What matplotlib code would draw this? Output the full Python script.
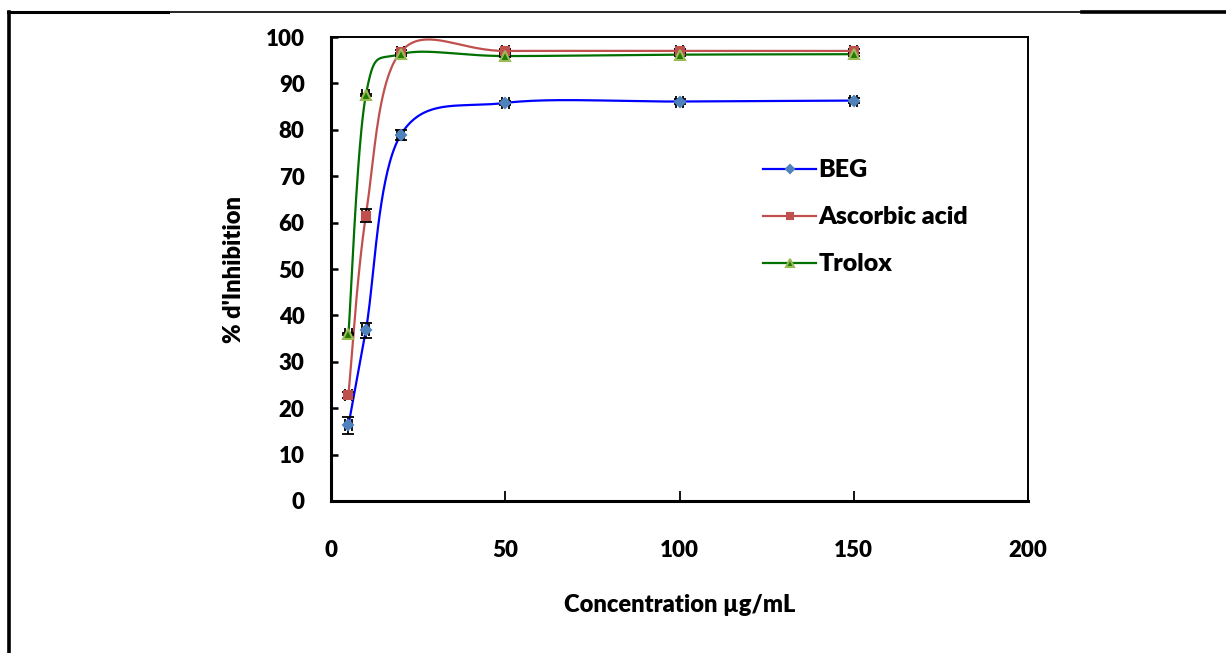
import numpy as np
import matplotlib
matplotlib.use("Agg")
import matplotlib.pyplot as plt
from matplotlib.lines import Line2D

plt.rcParams['font.family'] = ['Lato', 'DejaVu Sans']
plt.rcParams['font.weight'] = 'heavy'
W = 'heavy'

# data
conc = [5, 10, 20, 50, 100, 150]
beg = [16.3, 36.8, 78.9, 85.8, 86.1, 86.3]
beg_err = [1.8, 1.6, 1.0, 0.5, 0.5, 0.5]
ascorbic = [22.9, 61.5, 96.8, 97.0, 97.0, 97.0]
ascorbic_err = [0.6, 1.4, 0.5, 0.5, 0.5, 0.5]
trolox = [36.0, 87.5, 96.3, 95.9, 96.2, 96.3]
trolox_err = [0.3, 0.3, 0.3, 0.3, 0.3, 0.3]
conc_err = [1, 1, 1, 1, 1, 1]

series = [
    ("BEG", beg, beg_err, '#0000FF', 'D', '#4F81BD', '#4F81BD', 5.5),
    ("Ascorbic acid", ascorbic, ascorbic_err, '#C0504D', 's', '#C0504D', '#C0504D', 6),
    ("Trolox", trolox, trolox_err, '#007000', '^', '#1F7A00', '#9BBB59', 7.5),
]


def smooth(x, y, n=40):
    # excel-like smoothed line: cubic bezier with catmull-rom control points
    p = np.column_stack([x, y]).astype(float)
    pts = [p[0]]
    for i in range(len(p) - 1):
        p0 = p[i - 1] if i > 0 else p[i]
        p1, p2 = p[i], p[i + 1]
        p3 = p[i + 2] if i + 2 < len(p) else p[i + 1]
        c1 = p1 + (p2 - p0) / 6
        c2 = p2 - (p3 - p1) / 6
        t = np.linspace(0, 1, n)[1:, None]
        seg = ((1 - t) ** 3) * p1 + 3 * ((1 - t) ** 2) * t * c1 \
            + 3 * (1 - t) * t ** 2 * c2 + t ** 3 * p2
        pts.extend(seg)
    pts = np.array(pts)
    return pts[:, 0], pts[:, 1]


fig = plt.figure(figsize=(12.26, 6.53), dpi=100)
ax = fig.add_axes([0.270, 0.2328, 0.5685, 0.7105])

handles = []
for name, vals, err, lc, mk, mfc, mec, ms in series:
    sx, sy = smooth(conc, vals)
    ax.plot(sx, sy, color=lc, lw=1.6, zorder=2)
    ax.errorbar(conc, vals, yerr=err, xerr=conc_err, fmt='none', ecolor='black',
                elinewidth=1.3, capsize=4, capthick=1.3, zorder=3)
    ax.plot(conc, vals, ls='none', marker=mk, ms=ms, mfc=mfc, mec=mec,
            mew=1.5, zorder=4)
    handles.append(Line2D([], [], color=lc, lw=1.6, marker=mk, ms=ms - 1.5,
                          mfc=mfc, mec=mec, mew=1.5, label=name))

ax.set_xlim(0, 200)
ax.set_ylim(0, 100)
ax.set_xticks(range(0, 201, 50))
ax.set_yticks(range(0, 101, 10))
ax.tick_params(axis='x', direction='in', length=7, width=1.3, labelsize=16, pad=28)
ax.tick_params(axis='y', direction='in', length=5, width=1.8, labelsize=16, pad=19)
for lab in ax.get_xticklabels() + ax.get_yticklabels():
    lab.set_fontweight(W)

for side in ['left', 'bottom']:
    ax.spines[side].set_linewidth(2.2)
for side in ['top', 'right']:
    ax.spines[side].set_linewidth(1.4)

ax.set_xlabel('Concentration µg/mL', fontsize=17, fontweight=W, labelpad=24)
ax.set_ylabel("% d'Inhibition", fontsize=17, fontweight=W, labelpad=15)

ax.legend(handles=handles, loc='upper left', bbox_to_anchor=(0.588, 0.785),
          frameon=False, handlelength=2.1, handletextpad=0.1,
          labelspacing=1.0, prop={'weight': W, 'size': 18})

# page frame lines around the chart
ytop = 1 - 11.5 / 653
fig.add_artist(Line2D([8 / 1226, 168 / 1226], [ytop, ytop], color='black', lw=2.2))
fig.add_artist(Line2D([168 / 1226, 1082 / 1226], [ytop, ytop], color='black', lw=1.2))
fig.add_artist(Line2D([1082 / 1226, 1], [ytop, ytop], color='black', lw=2.6))
fig.add_artist(Line2D([8.5 / 1226, 8.5 / 1226], [0, ytop], color='black', lw=2.6))

fig.savefig('out.png', dpi=100)
